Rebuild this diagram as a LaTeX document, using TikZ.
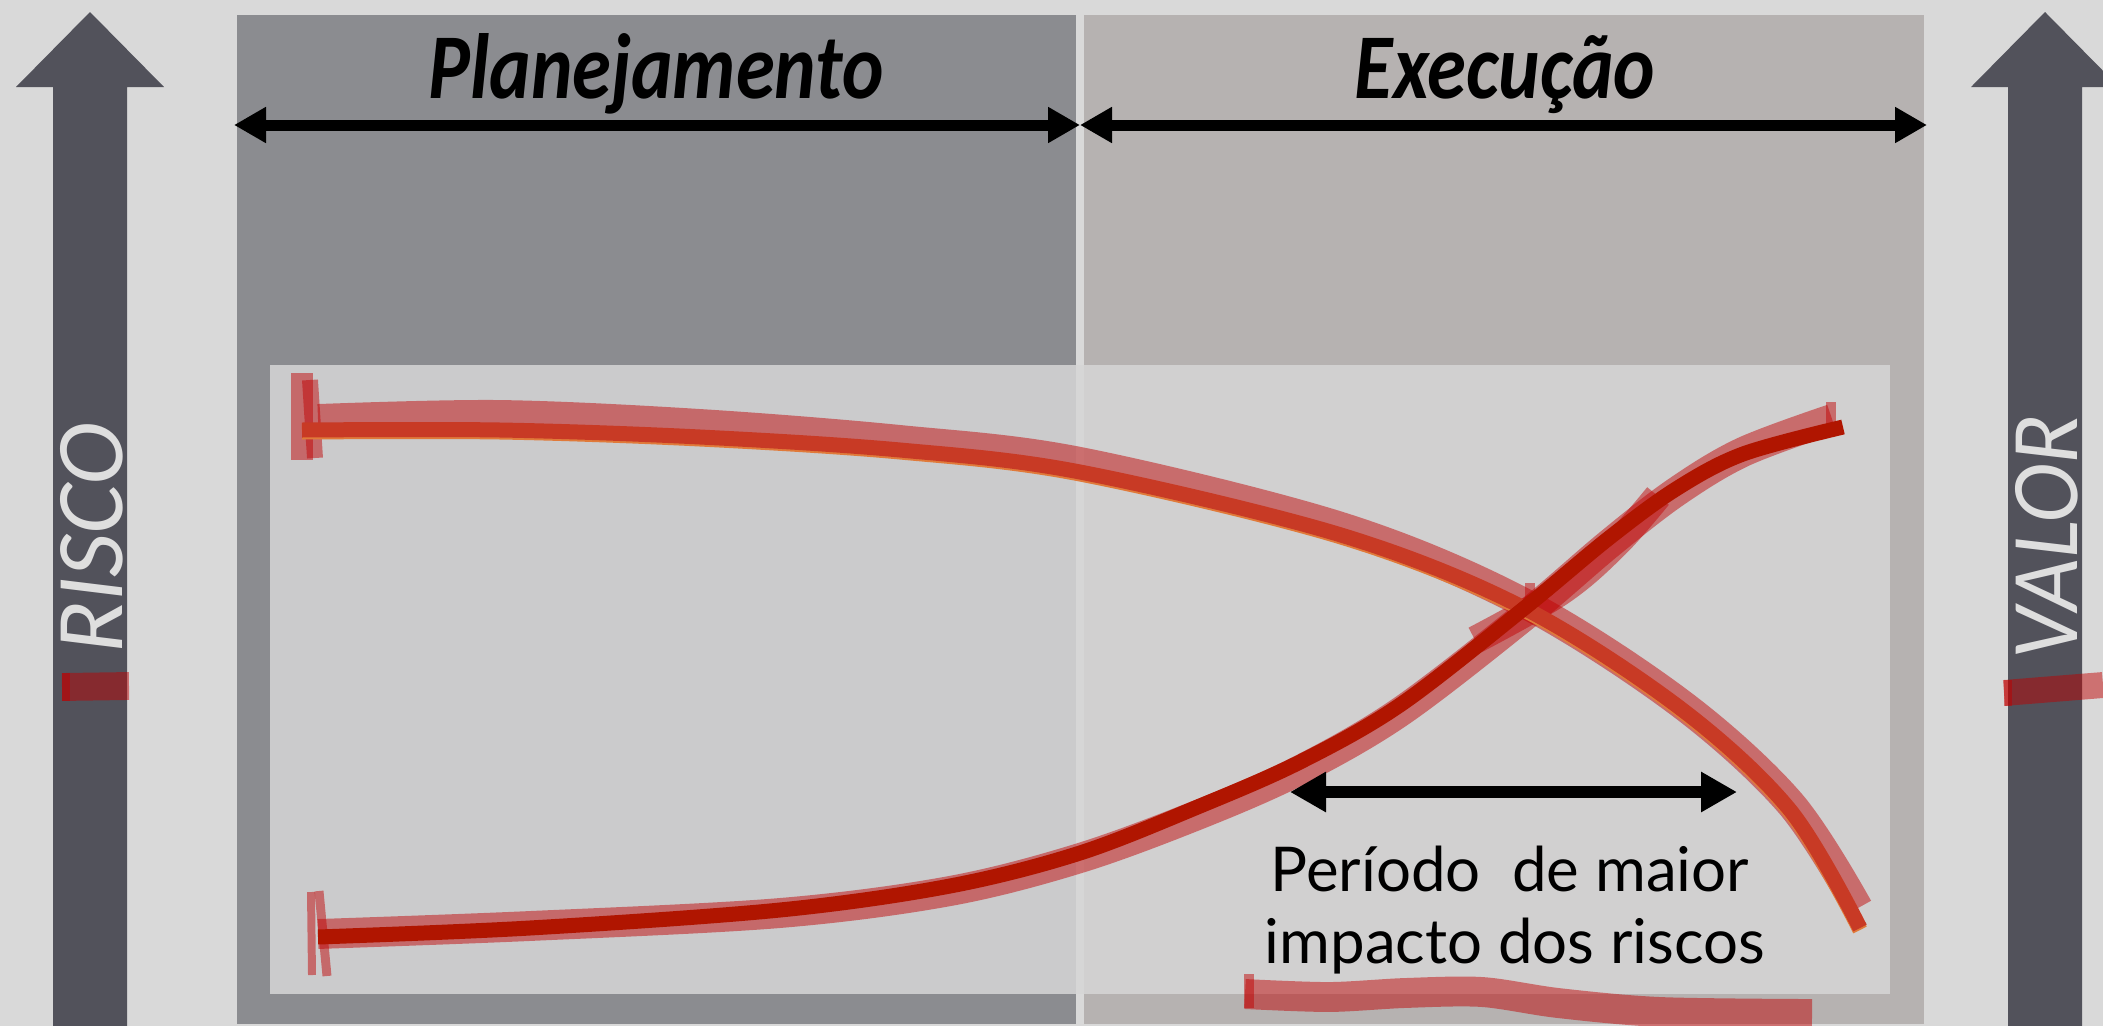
\documentclass[tikz,border=0pt]{standalone}
\usepackage{fontspec}
\usetikzlibrary{arrows.meta}
\newfontfamily\headfont[FakeStretch=0.85]{Carlito}
\newfontfamily\riscofont{Carlito}
\newfontfamily\valorfont[FakeStretch=0.95]{Carlito}
\newfontfamily\bodyfont{Lato}
\definecolor{bgc}{HTML}{D9D9D9}
\definecolor{planc}{HTML}{8B8C90}
\definecolor{execc}{HTML}{B6B2B1}
\definecolor{arrowc}{HTML}{52525B}
\definecolor{innerc}{RGB}{214,214,214}
\definecolor{hlred}{RGB}{192,0,0}
\definecolor{riskc}{HTML}{C83A25}
\definecolor{riskfringe}{HTML}{E07A3A}
\definecolor{valuec}{HTML}{B01500}
\definecolor{axistext}{HTML}{DEDEDE}
\tikzset{
  hl/.style={draw=hlred, draw opacity=0.48, line width=#1, line cap=butt, line join=round},
  hl/.default=30,
  dimarrow/.style={draw=black, line width=11bp, {Triangle[length=32bp,width=34bp]}-{Triangle[length=32bp,width=34bp]}},
  periodarrow/.style={draw=black, line width=12bp, {Triangle[length=36bp,width=38bp]}-{Triangle[length=36bp,width=38bp]}},
  heading/.style={font=\headfont\bfseries\itshape\fontsize{93}{100}\selectfont, anchor=base, text=black, inner sep=0pt},
  axislabel/.style={rotate=90, anchor=base, text=axistext, inner sep=0pt},
  bodytext/.style={font=\bodyfont\fontsize{62}{70}\selectfont, anchor=base, text=black, inner sep=0pt},
  bigarrow/.style={fill=arrowc}
}
\begin{document}
\begin{tikzpicture}[x=1bp,y=-1bp]
\useasboundingbox (0,0) rectangle (2103,1026);
\fill[bgc] (0,0) rectangle (2103,1026);
% panels
\fill[planc] (237,15) rectangle (1076,1024);
\fill[execc] (1084,15) rectangle (1924,1024);
% big axis arrows
\fill[bigarrow] (53,1026) -- (53,87) -- (16,87) -- (90,12) -- (164,87) -- (127,87) -- (127,1026) -- cycle;
\fill[bigarrow] (2008,1026) -- (2008,87) -- (1971,87) -- (2045,12) -- (2119,87) -- (2082,87) -- (2082,1026) -- cycle;
\node[axislabel, font=\riscofont\itshape\fontsize{96}{100}\selectfont] (risco) at (122,538) {RISCO};
\node[axislabel, font=\valorfont\itshape\fontsize{96}{100}\selectfont] (valor) at (2077,537) {VALOR};
% inner box
\fill[innerc, fill opacity=0.86] (270,365) rectangle (1890,994);
% headings and top arrows
\node[heading] (plan) at (656,98) {Planejamento};
\node[heading] (exec) at (1505,98) {Execução};
\coordinate (tl) at (234,125);
\coordinate (tm) at (1080,125);
\coordinate (tr) at (1927,125);
\draw[dimarrow] (tl) -- (tm);
\draw[dimarrow] (tm) -- (tr);
% highlight strokes under curves
\draw[hl] plot[smooth, tension=0.55] coordinates {(318,419) (500,415) (700,424) (900,440) (1080,462) (1341,527) (1522,602) (1680,703) (1790,803) (1858,908)};
\draw[hl] plot[smooth, tension=0.55] coordinates {(318,934) (530,926) (780,913) (950,891) (1080,858) (1200,814) (1300,770) (1400,712) (1522,618) (1609,544) (1676,492) (1743,452) (1832,419)};
\draw[hl=28] plot[smooth, tension=0.6] coordinates {(1475,640) (1560,592) (1615,545) (1658,496)};
\draw[hl=10] (1530,583) -- (1530,615);
\draw[hl=10] (1831,402) -- (1831,424);
% curve start markers
\draw[hl=22] (302,373) -- (302,460);
\draw[hl=16] (310,380) -- (315,458);
\draw[hl=8] (311,892) -- (312,975);
\draw[hl=9] (319,891) -- (327,976);
% risk curve core
\draw[riskfringe, line width=15bp, line join=round] plot[smooth, tension=0.55] coordinates {(302,432) (500,432) (700,439) (900,452) (1080,474) (1341,537) (1522,609) (1680,710) (1790,812) (1860,930)};
\draw[riskc, line width=15bp, line join=round] plot[smooth, tension=0.55] coordinates {(302,430) (500,430) (700,437) (900,450) (1080,472) (1341,535) (1522,607) (1680,708) (1790,810) (1860,928)};
% value curve core
\draw[valuec, line width=15bp, line join=round] plot[smooth, tension=0.55] coordinates {(318,937) (530,928) (780,910) (950,886) (1080,853) (1200,806) (1300,762) (1400,705) (1522,610) (1609,538) (1676,489) (1743,454) (1843,427)};
% period arrow and text
\coordinate (pa) at (1290,792);
\coordinate (pb) at (1737,792);
\draw[periodarrow] (pa) -- (pb);
\node[bodytext] (per1) at (1510,891) {Período\ \ de maior};
\node[bodytext] (per2) at (1515,963) {impacto dos riscos};
% red marks on axis arrows
\draw[hl=28] (62,687) -- (129,686);
\draw[hl=8] (66,673) -- (66,701);
\draw[hl=26] (2004,693) -- (2103,685);
\draw[hl=8] (2008,680) -- (2008,706);
% red underline under the text
\draw[hl] plot[smooth, tension=0.5] coordinates {(1245,994) (1329,997) (1405,993) (1482,992) (1558,1003) (1660,1012) (1812,1014)};
\draw[hl=10] (1249,974) -- (1249,1008);
\end{tikzpicture}
\end{document}
